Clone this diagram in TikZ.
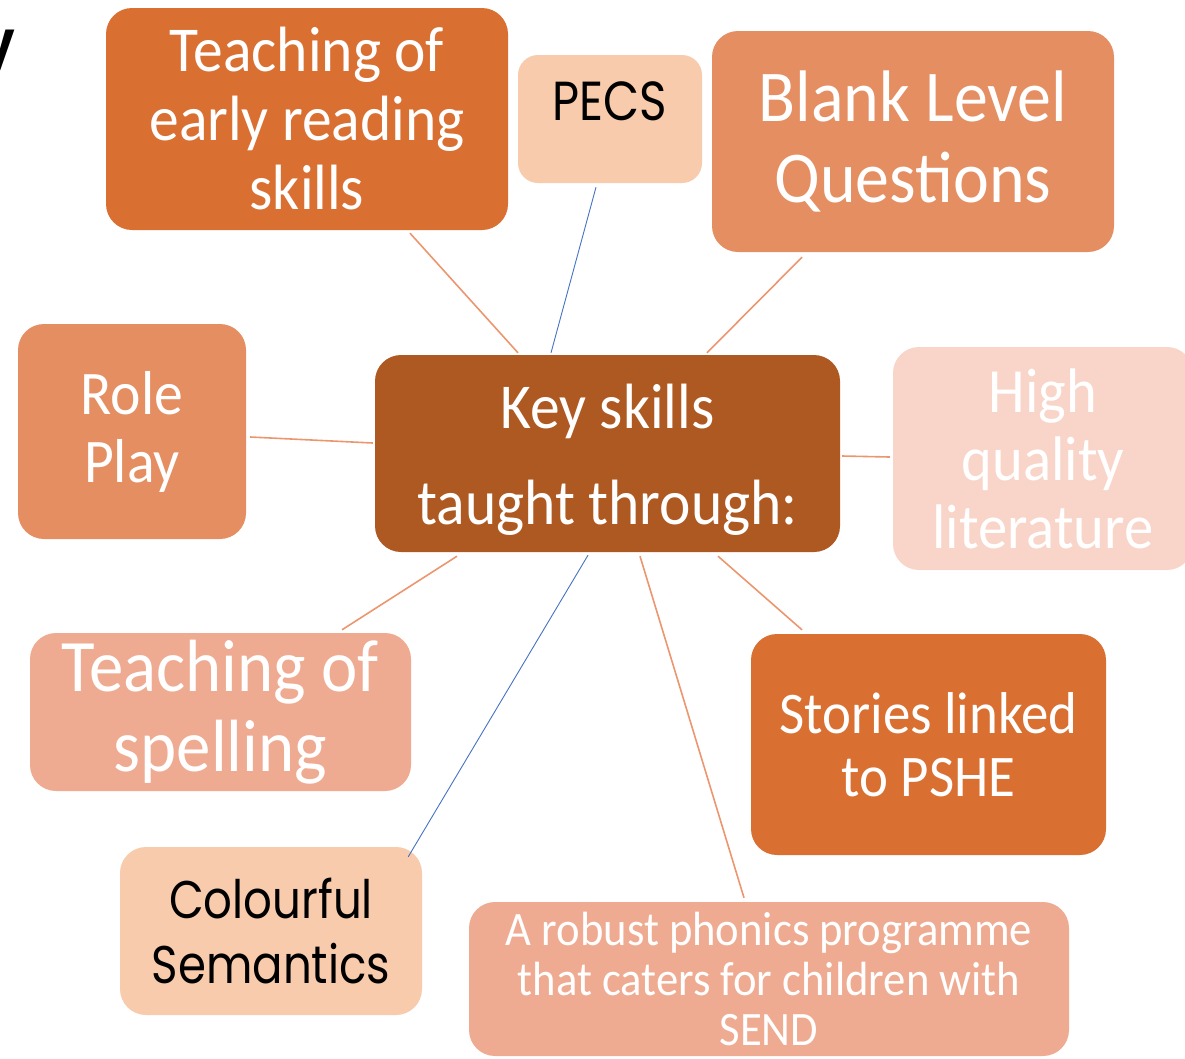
\documentclass[tikz,border=0pt]{standalone}
\usepackage{fontspec}
\setmainfont{Carlito}[FakeStretch=0.93]
\newfontfamily\geofont{Poppins}[FakeStretch=0.85]
\newfontfamily\titlefont{TeX Gyre Heros}
\usetikzlibrary{positioning, calc}

\definecolor{deeporange}{RGB}{217,112,50}
\definecolor{midorange}{RGB}{228,142,98}
\definecolor{brownorange}{RGB}{174,89,33}
\definecolor{paleorange}{RGB}{247,203,172}
\definecolor{salmon}{RGB}{239,171,145}
\definecolor{blush}{RGB}{248,213,200}
\definecolor{linkorange}{RGB}{236,150,110}
\definecolor{linkblue}{RGB}{68,114,196}

\newcommand{\fs}[2]{\fontsize{#1}{#2}\selectfont}

\begin{document}
\begin{tikzpicture}[
		x=1pt, y=-1pt,
		% estilos de las cajas
		box/.style = {rectangle, rounded corners=26pt, align=center, text=white, inner sep=0pt},
		darkbox/.style = {box, fill=brownorange},
		hotbox/.style = {box, fill=deeporange},
		warmbox/.style = {box, fill=midorange},
		softbox/.style = {box, fill=salmon},
		palebox/.style = {box, fill=blush},
		blackbox/.style = {box, fill=paleorange, text=black, font=\geofont},
		link/.style = {draw=linkorange, line width=1.6pt},
		bluelink/.style = {draw=linkblue, line width=0.9pt}
		]
		\useasboundingbox (0,0) rectangle (1185,1058);
		
		% --- TITULO CORTADO ---
		\node [anchor=base east, inner sep=0pt, font=\titlefont\bfseries\fs{62}{62}] (title) at (16,63) {y};
		
		% --- NODO CENTRAL ---
		\node [darkbox, minimum width=465, minimum height=197, font=\fs{64}{96}] (key) at (607.5,453.5) {\rule{0pt}{56pt}Key skills\\taught through:};
		
		% --- CAJAS SUPERIORES ---
		\node [hotbox, minimum width=402, minimum height=222, font=\fs{64}{69}] (teach) at (307,119) {Teaching of\\early reading\\skills};
		\node [blackbox, rounded corners=20pt, minimum width=184, minimum height=128, text depth=36pt, font=\geofont\fs{55}{55}] (pecs) at (610,119) {PECS};
		\node [warmbox, minimum width=402, minimum height=221, font=\fs{73}{81}] (blank) at (913,141.5) {Blank Level\\Questions};
		
		% --- CAJAS LATERALES ---
		\node [warmbox, minimum width=228, minimum height=215, font=\fs{62}{68}] (role) at (132,431.5) {Role\\Play};
		\node [palebox, minimum width=300, minimum height=223, font=\fs{63}{68}] (high) at (1043,458.5) {High\\quality\\literature};
		
		% --- CAJAS INFERIORES ---
		\node [softbox, minimum width=381, minimum height=158, font=\fs{74}{80}] (spell) at (220.5,712) {Teaching of\\spelling};
		\node [hotbox, minimum width=355, minimum height=221, font=\fs{59}{63}] (stories) at (928.5,744.5) {Stories linked\\to PSHE};
		\node [blackbox, minimum width=302, minimum height=168, font=\geofont\fs{53}{65}] (colour) at (271,931) {Colourful\\Semantics};
		\node [softbox, minimum width=600, minimum height=154, font=\fs{48}{50}] (phonics) at (769,979) {A robust phonics programme\\that caters for children with\\SEND};
		
		% --- CONEXIONES ---
		\draw [link] ([xshift=103pt, yshift=-3pt]teach.south) -- ([xshift=-89.5pt, yshift=2pt]key.north);
		\draw [bluelink] ([xshift=-14pt, yshift=-4pt]pecs.south) -- ([xshift=-56.5pt, yshift=2pt]key.north);
		\draw [link] ([xshift=-111pt, yshift=-5pt]blank.south) -- ([xshift=99.5pt, yshift=2pt]key.north);
		\draw [link] ([xshift=4pt, yshift=-5.5pt]role.east) -- ([xshift=-2pt, yshift=10.5pt]key.west);
		\draw [link] ([xshift=2pt, yshift=-2.5pt]key.east) -- ([xshift=-3pt, yshift=1.5pt]high.west);
		\draw [link] ([xshift=121.5pt, yshift=3pt]spell.north) -- ([xshift=-150.5pt, yshift=-4pt]key.south);
		\draw [bluelink] ([xshift=-14pt, yshift=-10pt]colour.north east) -- ([xshift=-19.5pt, yshift=-3pt]key.south);
		\draw [link] ([xshift=-25pt, yshift=4pt]phonics.north) -- ([xshift=32.5pt, yshift=-4pt]key.south);
		\draw [link] ([xshift=-126.5pt, yshift=4pt]stories.north) -- ([xshift=110.5pt, yshift=-4pt]key.south);
		
	\end{tikzpicture}
\end{document}
